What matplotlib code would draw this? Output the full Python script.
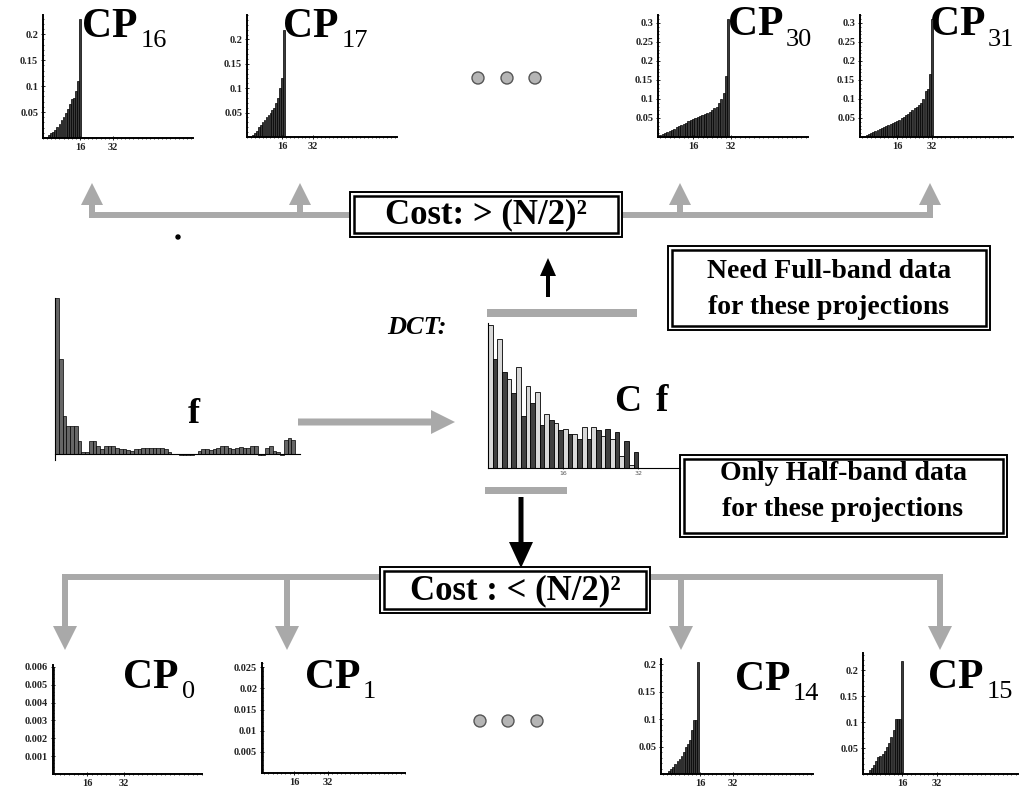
import numpy as np
import matplotlib.pyplot as plt
from matplotlib.patches import Rectangle, FancyArrow, Circle
from matplotlib.ticker import MultipleLocator

# --- data ---
cp16 = [0.005, 0.009, 0.012, 0.016, 0.022, 0.027, 0.034, 0.041, 0.048, 0.055,
        0.065, 0.075, 0.078, 0.09, 0.11, 0.23]
cp17 = [0.004, 0.008, 0.012, 0.02, 0.025, 0.03, 0.035, 0.04, 0.045, 0.05,
        0.055, 0.06, 0.07, 0.08, 0.1, 0.12, 0.22]
cp30 = [0.003, 0.005, 0.008, 0.01, 0.013, 0.016, 0.019, 0.022, 0.026, 0.03,
        0.032, 0.034, 0.038, 0.042, 0.045, 0.047, 0.05, 0.053, 0.055, 0.057,
        0.06, 0.062, 0.066, 0.07, 0.075, 0.08, 0.09, 0.1, 0.117, 0.16, 0.31]
cp31 = [0.003, 0.005, 0.008, 0.01, 0.012, 0.015, 0.018, 0.021, 0.024, 0.027,
        0.03, 0.032, 0.034, 0.037, 0.04, 0.043, 0.046, 0.05, 0.053, 0.057,
        0.06, 0.065, 0.07, 0.075, 0.08, 0.085, 0.09, 0.1, 0.12, 0.125, 0.165, 0.31]
cp0 = [0.006]
cp1 = [0.025]
cp14 = [0.005, 0.01, 0.013, 0.018, 0.023, 0.028, 0.033, 0.04, 0.049, 0.055,
        0.063, 0.08, 0.099, 0.099, 0.204]
cp15 = [0.008, 0.012, 0.018, 0.025, 0.032, 0.035, 0.038, 0.045, 0.052, 0.06,
        0.071, 0.085, 0.105, 0.105, 0.105, 0.217]

f_sig = [1.0, 0.61, 0.24, 0.18, 0.18, 0.18, 0.08, 0.01, 0.01, 0.08,
         0.08, 0.05, 0.03, 0.05, 0.05, 0.05, 0.04, 0.03, 0.03, 0.025,
         0.02, 0.03, 0.03, 0.035, 0.04, 0.04, 0.04, 0.04, 0.04, 0.03,
         0.01, 0.0, 0.0, -0.01, -0.01, -0.01, -0.01, 0.0, 0.02, 0.03,
         0.03, 0.025, 0.03, 0.04, 0.05, 0.05, 0.04, 0.03, 0.04, 0.045,
         0.035, 0.04, 0.05, 0.05, -0.01, -0.01, 0.04, 0.05, 0.02, 0.01,
         -0.01, 0.09, 0.1, 0.09]

cf = [435, 330, 392, 290, 270, 227, 305, 158, 250, 198, 230, 130, 163, 145,
      137, 115, 117, 102, 102, 87, 123, 87, 123, 115, 98, 117, 87, 110, 35,
      82, 10, 50]

ticks_02 = [0.05, 0.1, 0.15, 0.2]
ticks_03 = [0.05, 0.1, 0.15, 0.2, 0.25, 0.3]
ticks_cp0 = [0.001, 0.002, 0.003, 0.004, 0.005, 0.006]
ticks_cp1 = [0.005, 0.01, 0.015, 0.02, 0.025]
x_ticks = [16, 32]

W, H = 1029, 796
GREY = '#a9a9a9'
SERIF = 'Liberation Serif'

fig = plt.figure(figsize=(W / 100, H / 100), dpi=100)
ax = fig.add_axes([0, 0, 1, 1])
ax.set_xlim(0, W)
ax.set_ylim(H, 0)
ax.axis('off')


def inset(l, t, r, b):
    return fig.add_axes([l / W, 1 - b / H, (r - l) / W, (b - t) / H])


def small_plot(box, vals, yticks, ylim, xlim, minor=0.01, fmt='{:g}'):
    a = inset(*box)
    xs = np.arange(1, len(vals) + 1)
    a.bar(xs, vals, width=0.9, color='#3a3a3a', edgecolor='black', linewidth=0.5)
    a.set_xlim(*xlim)
    a.set_ylim(*ylim)
    for s in ['top', 'right']:
        a.spines[s].set_visible(False)
    a.spines['left'].set_linewidth(1.4)
    a.spines['bottom'].set_linewidth(1.4)
    a.set_yticks(yticks, [fmt.format(t) for t in yticks])
    a.set_xticks(x_ticks, [str(t) for t in x_ticks])
    a.yaxis.set_minor_locator(MultipleLocator(minor))
    a.xaxis.set_minor_locator(MultipleLocator(2))
    a.tick_params(which='major', direction='inout', length=3, width=0.6, pad=2)
    a.tick_params(which='minor', direction='inout', length=1.5, width=0.5)
    for lab in a.get_xticklabels() + a.get_yticklabels():
        lab.set_fontfamily(SERIF)
        lab.set_fontweight('bold')
        lab.set_fontsize(7.5)
        lab.set_color('#222222')
    a.patch.set_alpha(0)
    return a


# top row
small_plot((43, 15, 193, 138), cp16, ticks_02, (0, 0.237), (-2, 71))
small_plot((247, 15, 397, 137), cp17, ticks_02, (0, 0.25), (-2, 75))
small_plot((658, 15, 808, 137), cp30, ticks_03, (0, 0.321), (1, 65))
small_plot((860, 15, 1013, 137), cp31, ticks_03, (0, 0.321), (-1, 69))
# bottom row
small_plot((53, 665, 202, 774), cp0, ticks_cp0, (0, 0.0061), (1, 66), minor=0.0002)
small_plot((262, 663, 405, 773), cp1, ticks_cp1, (0, 0.026), (1, 68), minor=0.001)
small_plot((661, 659, 813, 774), cp14, ticks_02, (0, 0.21), (-3, 71))
small_plot((863, 653, 1018, 774), cp15, ticks_02, (0, 0.233), (-2, 69))

# signal f
af = inset(55, 298, 300, 460)
af.bar(np.arange(len(f_sig)) + 0.5, f_sig, width=1.0, color='#666666',
       edgecolor='black', linewidth=0.5)
af.set_xlim(0, 65.3)
af.set_ylim(-0.04, 1.0)
af.spines['bottom'].set_position(('data', 0))
for s in ['top', 'right']:
    af.spines[s].set_visible(False)
af.set_xticks([])
af.set_yticks([])
af.patch.set_alpha(0)

# DCT coefficients
ac = inset(488, 323, 680, 468)
cols = ['#d8d8d8' if i % 2 == 0 else '#404040' for i in range(len(cf))]
ac.bar(np.arange(len(cf)) + 0.5, cf, width=1.0, color=cols,
       edgecolor='black', linewidth=0.6)
ac.set_xlim(0, 40.9)
ac.set_ylim(0, 440)
for s in ['top', 'right']:
    ac.spines[s].set_visible(False)
ac.spines['left'].set_linewidth(0.8)
ac.set_yticks([])
ac.set_xticks(x_ticks, [str(t) for t in x_ticks])
ac.tick_params(direction='inout', length=2, width=0.5, pad=1, labelsize=4.5,
               labelcolor='#555555')
ac.patch.set_alpha(0)

# grey connectors, top
for x0, x1 in [(89, 350), (622, 933)]:
    ax.plot([x0, x1], [215, 215], color=GREY, lw=4.3, solid_capstyle='butt')
for x in [92, 300, 680, 930]:
    ax.add_patch(FancyArrow(x, 218, 0, -35, width=6, head_width=22, head_length=22,
                            length_includes_head=True, color=GREY, lw=0))
# grey connectors, bottom
for x0, x1 in [(62, 380), (650, 943)]:
    ax.plot([x0, x1], [577, 577], color=GREY, lw=4.3, solid_capstyle='butt')
for x in [65, 287, 681, 940]:
    ax.add_patch(FancyArrow(x, 574, 0, 76, width=6, head_width=24, head_length=24,
                            length_includes_head=True, color=GREY, lw=0))
# f -> Cf
ax.add_patch(FancyArrow(298, 422, 157, 0, width=7, head_width=24, head_length=24,
                        length_includes_head=True, color=GREY, lw=0))
# grey band markers
ax.add_patch(Rectangle((487, 309), 150, 8, color=GREY, lw=0))
ax.add_patch(Rectangle((485, 487), 82, 7, color=GREY, lw=0))
# black arrows
ax.add_patch(FancyArrow(548, 297, 0, -39, width=4, head_width=16, head_length=18,
                        length_includes_head=True, color='black', lw=0))
ax.add_patch(FancyArrow(521, 497, 0, 71, width=5, head_width=24, head_length=26,
                        length_includes_head=True, color='black', lw=0))


def double_box(l, t, r, b):
    ax.add_patch(Rectangle((l, t), r - l, b - t, fill=True, facecolor='white',
                           edgecolor='black', lw=1.4, zorder=3))
    ax.add_patch(Rectangle((l + 4, t + 4), r - l - 8, b - t - 8, fill=False,
                           edgecolor='black', lw=1.8, zorder=3))


double_box(350, 192, 622, 237)
double_box(668, 246, 990, 330)
double_box(680, 455, 1007, 537)
double_box(380, 567, 650, 613)

ax.text(486, 215, 'Cost: > (N/2)²', ha='center', va='center', fontsize=25,
        family=SERIF, weight='bold', zorder=4)
ax.text(515, 591, 'Cost : < (N/2)²', ha='center', va='center', fontsize=25,
        family=SERIF, weight='bold', zorder=4)
ax.text(829, 272, 'Need Full-band data', ha='center', va='center', fontsize=20,
        family=SERIF, weight='bold', zorder=4)
ax.text(829, 307, 'for these projections', ha='center', va='center', fontsize=20,
        family=SERIF, weight='bold', zorder=4)
ax.text(843, 473, 'Only Half-band data', ha='center', va='center', fontsize=20,
        family=SERIF, weight='bold', zorder=4)
ax.text(843, 509, 'for these projections', ha='center', va='center', fontsize=20,
        family=SERIF, weight='bold', zorder=4)

ax.text(387, 334, 'DCT:', ha='left', va='baseline', fontsize=19, family=SERIF,
        weight='bold', style='italic')
ax.text(188, 423, 'f', ha='left', va='baseline', fontsize=26, family=SERIF, weight='bold')
ax.text(614, 411, 'C', ha='left', va='baseline', fontsize=27, family=SERIF, weight='bold')
ax.text(656, 411, 'f', ha='left', va='baseline', fontsize=27, family=SERIF, weight='bold')

# CP labels: (x of CP, baseline, x of subscript, subscript baseline, subscript)
labels = [(82, 37, 141, 47, '16'), (283, 37, 342, 47, '17'),
          (728, 35, 786, 46, '30'), (930, 35, 988, 46, '31'),
          (123, 688, 182, 698, '0'), (305, 688, 363, 698, '1'),
          (735, 690, 793, 700, '14'), (928, 688, 987, 698, '15')]
for x, y, xs, ys, sub in labels:
    ax.text(x, y, 'CP', ha='left', va='baseline', fontsize=30, family=SERIF,
            weight='bold')
    ax.text(xs, ys, sub, ha='left', va='baseline', fontsize=19, family=SERIF)

# ellipsis dots
for cx, cy in [(478, 78), (507, 78), (535, 78), (480, 721), (508, 721), (537, 721)]:
    ax.add_patch(Circle((cx, cy), 6, facecolor='#b5b5b5', edgecolor='#555555', lw=1))
ax.add_patch(Circle((178, 237), 2, color='black'))

fig.savefig('out.png', dpi=100)
